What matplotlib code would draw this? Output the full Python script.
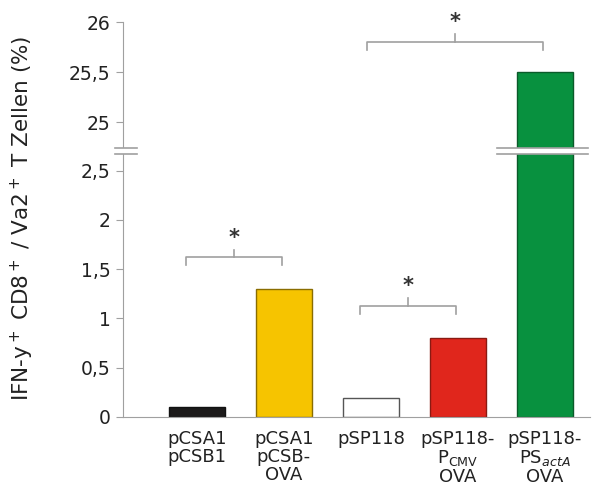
import matplotlib
matplotlib.use("Agg")
import matplotlib.pyplot as plt
from matplotlib.lines import Line2D
from matplotlib.patches import Rectangle

plt.rcParams['font.family'] = ['DejaVu Sans']
plt.rcParams['mathtext.fontset'] = 'dejavusans'

categories = ["pCSA1\npCSB1", "pCSA1\npCSB-\nOVA", "pSP118",
              "pSP118-\nP$_\\mathrm{CMV}$\nOVA", "pSP118-\nPS$_{actA}$\nOVA"]
values = [0.1, 1.3, 0.19, 0.8, 25.5]
colors = ["#1c1a1a", "#f6c400", "#ffffff", "#e0261c", "#08913f"]
edges = ["#111111", "#8a6d00", "#555555", "#8a1a12", "#0b5a2a"]
low_ticks = [0, 0.5, 1, 1.5, 2, 2.5]
low_labels = ["0", "0,5", "1", "1,5", "2", "2,5"]
high_ticks = [25, 25.5, 26]
high_labels = ["25", "25,5", "26"]
# significance brackets: (x1, x2, y, drop)
brackets_low = [(-0.13, 0.98, 1.62, 0.08), (1.87, 2.98, 1.13, 0.08)]
brackets_high = [(1.95, 3.98, 25.80, 0.08)]

W, H = 608, 488
fig = plt.figure(figsize=(W / 100, H / 100), dpi=100)
L, R = 123 / W, 590 / W
y0, ybrk, ytop = (H - 417) / H, (H - 152) / H, (H - 22) / H
ax_lo = fig.add_axes([L, y0, R - L, ybrk - y0])
ax_hi = fig.add_axes([L, ybrk, R - L, ytop - ybrk])

x = list(range(len(values)))
grey = "#a0a0a0"
for ax in (ax_lo, ax_hi):
    ax.bar(x, values, width=0.64, color=colors, edgecolor=edges, linewidth=1.0)
    ax.set_xlim(-0.85, 4.52)
    for s in ("top", "right"):
        ax.spines[s].set_visible(False)
    ax.spines["left"].set_color(grey)
    ax.spines["bottom"].set_color(grey)
    ax.tick_params(axis="y", direction="out", length=5, color=grey,
                   labelsize=13.5, labelcolor="#222222", pad=4)
    ax.patch.set_alpha(0)

ax_lo.set_ylim(0, 2.69)
ax_lo.set_yticks(low_ticks, low_labels)
ax_lo.set_xticks(x, categories)
ax_lo.tick_params(axis="x", length=0, labelsize=13, labelcolor="#222222", pad=9)
for t in ax_lo.get_xticklabels():
    t.set_linespacing(1.0)

ax_hi.set_ylim(24.7, 26)
ax_hi.set_yticks(high_ticks, high_labels)
ax_hi.set_xticks([])
ax_hi.spines["bottom"].set_visible(False)

def bracket(ax, x1, x2, y, d, off):
    ax.plot([x1, x1, x2, x2], [y - d, y, y, y - d], color=grey, lw=1.2, clip_on=False)
    xm = (x1 + x2) / 2
    ax.plot([xm, xm], [y, y + d], color=grey, lw=1.2, clip_on=False)
    ax.text(xm, y + d + off, "*", ha="center", va="center", fontsize=15,
            fontweight="bold", color="#333333", clip_on=False)

for b in brackets_low:
    bracket(ax_lo, *b, 0.12)
for b in brackets_high:
    bracket(ax_hi, *b, 0.12)

# axis break markers
def px(xp, yp):
    return xp / W, (H - yp) / H

fig.add_artist(Rectangle(px(497, 154), 91 / W, 6 / H, transform=fig.transFigure,
                         facecolor="white", edgecolor="none", zorder=5))
fig.add_artist(Rectangle(px(117, 154), 18 / W, 6 / H, transform=fig.transFigure,
                         facecolor="white", edgecolor="none", zorder=5))
for yy in (148, 154):
    for xa, xb in ((115, 137), (497, 588)):
        (xa_f, yf), (xb_f, _) = px(xa, yy), px(xb, yy)
        fig.add_artist(Line2D([xa_f, xb_f], [yf, yf], transform=fig.transFigure,
                              color=grey, lw=1.2, zorder=6))

fig.text(22 / W, (H - 218) / H, "IFN-y$^+$ CD8$^+$ / Va2$^+$ T Zellen (%)",
         rotation=90, ha="center", va="center", fontsize=15.5, color="#222222")

fig.savefig("out.png", dpi=100)
